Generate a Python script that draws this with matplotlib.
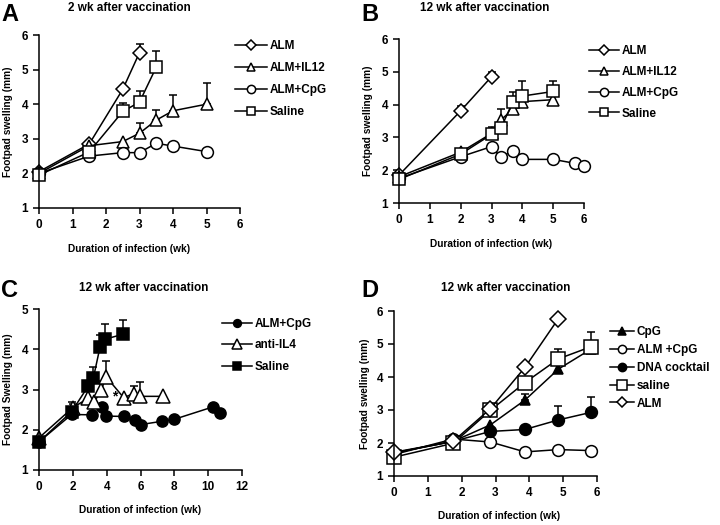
import numpy as np
import matplotlib
matplotlib.use("Agg")
import matplotlib.pyplot as plt

plt.rcParams['font.family'] = ['Liberation Sans', 'DejaVu Sans']
plt.rcParams['font.weight'] = 'bold'
plt.rcParams['font.size'] = 8.5

# ---------------- data ----------------
# Panel A: 2 wk after vaccination
a_alm_x = [0, 1.5, 2.5, 3.0]
a_alm_y = [2.05, 2.85, 4.43, 5.49]
a_alm_err = [None, None, None, 5.74]
a_il12_x = [0, 1.5, 2.5, 3.0, 3.5, 4.0, 5.0]
a_il12_y = [2.0, 2.8, 2.92, 3.16, 3.54, 3.81, 4.0]
a_il12_err = [None, None, None, 3.47, 3.83, 4.27, 4.62]
a_cpg_x = [0, 1.5, 2.5, 3.0, 3.5, 4.0, 5.0]
a_cpg_y = [2.0, 2.5, 2.6, 2.6, 2.87, 2.79, 2.63]
a_cpg_err = [None] * 7
a_sal_x = [0, 1.5, 2.5, 3.0, 3.5]
a_sal_y = [1.95, 2.62, 3.79, 4.06, 5.07]
a_sal_err = [None, None, 4.03, 4.38, 5.55]

# Panel B: 12 wk after vaccination
b_alm_x = [0, 2, 3]
b_alm_y = [1.85, 3.81, 4.85]
b_alm_err = [None, 3.95, 5.0]
b_il12_x = [0, 2, 3, 3.3, 3.7, 4, 5]
b_il12_y = [1.8, 2.55, 3.12, 3.53, 3.86, 4.09, 4.15]
b_il12_err = [None] * 7
b_cpg_x = [0, 2, 3, 3.3, 3.7, 4, 5, 5.7, 6]
b_cpg_y = [1.75, 2.41, 2.72, 2.39, 2.6, 2.33, 2.33, 2.21, 2.13]
b_cpg_err = [None] * 9
b_sal_x = [0, 2, 3, 3.3, 3.7, 4, 5]
b_sal_y = [1.72, 2.49, 3.09, 3.28, 4.09, 4.26, 4.4]
b_sal_err = [None, None, 3.33, 3.86, 4.37, 4.72, 4.72]

# Panel C: 12 wk after vaccination
c_cpg_x = [0, 1.93, 3.15, 3.71, 3.95, 5.05, 5.68, 6.04, 7.26, 8.0, 10.3, 10.68]
c_cpg_y = [1.7, 2.38, 2.37, 2.57, 2.34, 2.33, 2.24, 2.13, 2.21, 2.26, 2.57, 2.42]
c_cpg_err = [None] * 12
c_il4_x = [0, 2.0, 2.9, 3.25, 3.68, 3.96, 5.0, 5.62, 5.98, 7.35]
c_il4_y = [1.8, 2.55, 2.78, 2.68, 2.98, 3.32, 2.8, 2.9, 2.83, 2.83]
c_il4_err = [None, 2.65, None, None, 3.2, 3.7, None, 3.09, 3.19, None]
c_sal_x = [0, 1.93, 2.92, 3.21, 3.61, 3.9, 4.95]
c_sal_y = [1.7, 2.45, 3.09, 3.28, 4.06, 4.25, 4.37]
c_sal_err = [None, 2.7, None, 3.57, 4.35, 4.62, 4.73]
c_star_x = 4.45
c_star_y = 2.83

# Panel D: 12 wk after vaccination
d_x = [0, 1.75, 2.85, 3.87, 4.86, 5.83]
d_cpg_y = [1.7, 2.05, 2.55, 3.3, 4.24, 4.85]
d_cpg_err = [None, None, None, 3.5, None, None]
d_almcpg_y = [1.65, 2.12, 2.03, 1.73, 1.8, 1.77]
d_almcpg_err = [None] * 6
d_dna_y = [1.7, 2.05, 2.35, 2.41, 2.7, 2.93]
d_dna_err = [None, None, None, None, 3.13, 3.4]
d_sal_y = [1.57, 1.99, 2.99, 3.83, 4.55, 4.92]
d_sal_err = [None, None, None, None, 4.85, 5.35]
d_alm_x = [0, 1.75, 2.85, 3.87, 4.86]
d_alm_y = [1.72, 2.05, 3.04, 4.29, 5.77]
d_alm_err = [None] * 5

fig = plt.figure(figsize=(7.2, 5.25), dpi=100)
W, H = 720.0, 525.0
LAB = 7.3  # axis label size


def px_axes(left, top, right, bottom):
    return fig.add_axes([left / W, 1 - bottom / H, (right - left) / W, (bottom - top) / H])


def series(ax, x, y, err, marker, ms, fill, label):
    x = np.array(x, dtype=float)
    y = np.array(y, dtype=float)
    e = np.array([np.nan if v is None else v for v in err], dtype=float)
    m = ~np.isnan(e)
    if m.any():
        ax.errorbar(x[m], y[m], yerr=[np.zeros(m.sum()), e[m] - y[m]], fmt='none',
                    ecolor='black', elinewidth=1.1, capsize=3.2, capthick=1.1,
                    zorder=1, clip_on=False)
    ax.plot(x, y, color='black', lw=1.1, marker=marker, ms=ms,
            mfc=fill, mec='black', mew=1.1, label=label, zorder=2, clip_on=False)


def style(ax, xmax, xticks, ymax, ylab, ylab_x, xlab_x, xlab_y):
    ax.set_xlim(0, xmax)
    ax.set_ylim(1, ymax)
    ax.set_xticks(xticks)
    ax.set_yticks(range(1, ymax + 1))
    for s in ['top', 'right']:
        ax.spines[s].set_visible(False)
    for s in ['left', 'bottom']:
        ax.spines[s].set_linewidth(1.1)
    ax.tick_params(direction='out', length=4, width=1.1, pad=4, labelsize=8.5)
    ax.set_xlabel('Duration of infection (wk)', fontsize=LAB, fontweight='bold')
    ax.xaxis.set_label_coords(xlab_x, xlab_y)
    ax.set_ylabel(ylab, fontsize=LAB, fontweight='bold')
    ax.yaxis.set_label_coords(ylab_x, 0.5)


def legend(ax, x, y, spacing, hl):
    ax.legend(loc='upper left', bbox_to_anchor=(x / W, 1 - y / H),
              bbox_transform=fig.transFigure, frameon=False, borderpad=0,
              borderaxespad=0, handlelength=hl, handletextpad=0.25,
              labelspacing=spacing, markerscale=0.7, numpoints=1, fontsize=8.5)


# ---- A ----
ax = px_axes(39, 35, 240, 208)
series(ax, a_alm_x, a_alm_y, a_alm_err, 'D', 7, 'white', 'ALM')
series(ax, a_il12_x, a_il12_y, a_il12_err, '^', 9, 'white', 'ALM+IL12')
series(ax, a_cpg_x, a_cpg_y, a_cpg_err, 'o', 8.5, 'white', 'ALM+CpG')
series(ax, a_sal_x, a_sal_y, a_sal_err, 's', 8.5, 'white', 'Saline')
style(ax, 6, range(0, 7), 6, 'Footpad swelling (mm)', -0.13, 0.45, -0.21)
legend(ax, 235, 40, 0.85, 2.7)
fig.text(1 / W, 1 - 3 / H, 'A', fontsize=17, fontweight='bold', va='top')
fig.text(129 / W, 1 - 8 / H, '2 wk after vaccination', ha='center', va='center')

# ---- B ----
ax = px_axes(399, 39, 584, 203)
series(ax, b_alm_x, b_alm_y, b_alm_err, 'D', 7, 'white', 'ALM')
series(ax, b_il12_x, b_il12_y, b_il12_err, '^', 9, 'white', 'ALM+IL12')
series(ax, b_cpg_x, b_cpg_y, b_cpg_err, 'o', 8.5, 'white', 'ALM+CpG')
series(ax, b_sal_x, b_sal_y, b_sal_err, 's', 8.5, 'white', 'Saline')
style(ax, 6, range(0, 7), 6, 'Footpad swelling (mm)', -0.14, 0.5, -0.22)
legend(ax, 589, 45, 0.75, 2.5)
fig.text(361 / W, 1 - 3 / H, 'B', fontsize=17, fontweight='bold', va='top')
fig.text(485 / W, 1 - 8 / H, '12 wk after vaccination', ha='center', va='center')

# ---- C ----
ax = px_axes(39, 309, 242, 470)
series(ax, c_cpg_x, c_cpg_y, c_cpg_err, 'o', 8, 'black', 'ALM+CpG')
series(ax, c_il4_x, c_il4_y, c_il4_err, '^', 10, 'white', 'anti-IL4')
series(ax, c_sal_x, c_sal_y, c_sal_err, 's', 8, 'black', 'Saline')
ax.text(c_star_x, c_star_y, '*', ha='center', va='center', fontsize=10, fontweight='bold')
style(ax, 12, range(0, 13, 2), 5, 'Footpad Swelling (mm)', -0.128, 0.5, -0.215)
legend(ax, 222, 318, 0.8, 2.55)
fig.text(1 / W, 1 - 279 / H, 'C', fontsize=17, fontweight='bold', va='top')
fig.text(144 / W, 1 - 288 / H, '12 wk after vaccination', ha='center', va='center')

# ---- D ----
ax = px_axes(394, 311, 597, 476)
series(ax, d_x, d_cpg_y, d_cpg_err, '^', 7.5, 'black', 'CpG')
series(ax, d_x, d_almcpg_y, d_almcpg_err, 'o', 8.5, 'white', 'ALM +CpG')
series(ax, d_x, d_dna_y, d_dna_err, 'o', 8.5, 'black', 'DNA cocktail')
series(ax, d_x, d_sal_y, d_sal_err, 's', 9.5, 'white', 'saline')
series(ax, d_alm_x, d_alm_y, d_alm_err, 'D', 8, 'white', 'ALM')
style(ax, 6, range(0, 7), 6, 'Footpad swelling (mm)', -0.118, 0.52, -0.21)
legend(ax, 610, 326, 0.5, 2.0)
fig.text(361 / W, 1 - 279 / H, 'D', fontsize=17, fontweight='bold', va='top')
fig.text(506 / W, 1 - 288 / H, '12 wk after vaccination', ha='center', va='center')

fig.savefig('out.png', dpi=100)
